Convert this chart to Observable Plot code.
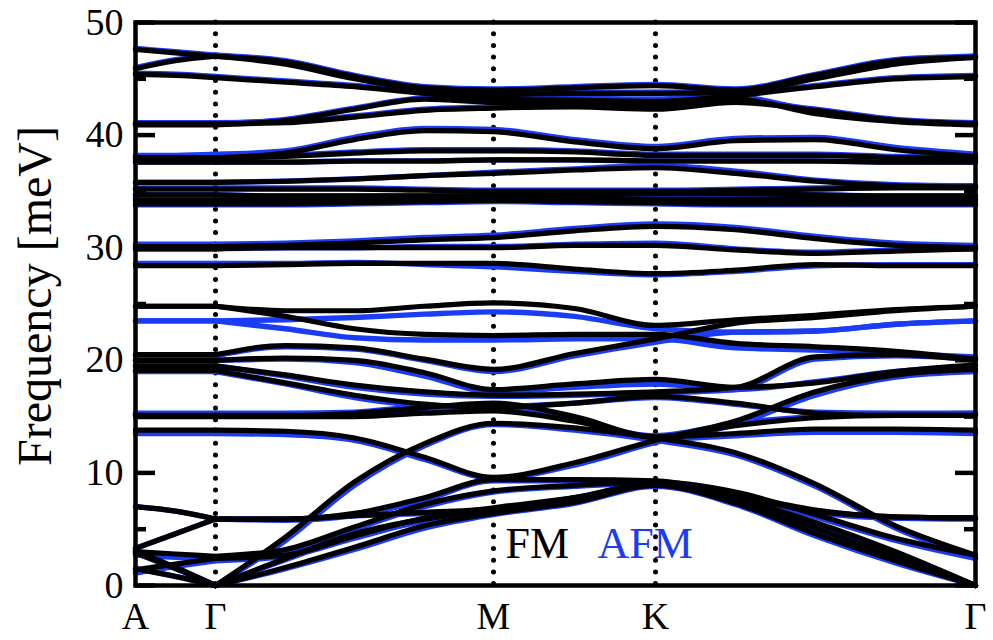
<!DOCTYPE html>
<html><head><meta charset="utf-8">
<script src="https://cdn.jsdelivr.net/npm/d3@7"></script>
<script src="https://cdn.jsdelivr.net/npm/@observablehq/plot@0.6"></script>
<style>html,body{margin:0;padding:0;background:#fff}#chart{width:993px;height:640px}</style>
</head><body><div id="chart"></div>
<script>
// High-symmetry path
const kLabels = ["A", "Γ", "M", "K", "Γ"];
const kPoints = [0, 0.8, 3.58, 5.2, 8.4];
// k-coordinates at which each band is sampled (A, mid, Γ, 3 inner Γ-M, M, mid, K, 3 inner K-Γ, Γ)
const kSamples = [0, 0.4, 0.8, 1.5, 2.19, 2.89, 3.58, 4.39, 5.2, 6.0, 6.8, 7.6, 8.4];
const yTicksMajor = [0, 10, 20, 30, 40, 50];
const yTicksMinor = [5, 15, 25, 35, 45];
const legendLabels = ["FM", "AFM"];

// FM bands (meV)
const FM_B1 = [47.6, 47.3, 47.0, 46.5, 45.2, 44.2, 44.0, 44.2, 44.4, 44.0, 45.3, 46.6, 46.9];
const FM_B2 = [45.9, 46.6, 47.0, 46.3, 45.0, 44.0, 43.6, 43.7, 43.7, 43.8, 45.0, 46.3, 46.9];
const FM_B3 = [45.4, 45.3, 45.1, 44.7, 44.3, 43.7, 43.2, 43.1, 43.0, 43.5, 44.3, 45.0, 45.2];
const FM_B4 = [41.0, 41.0, 41.0, 41.1, 41.6, 42.2, 42.4, 42.5, 42.3, 42.9, 42.2, 41.3, 41.0];
const FM_B5 = [40.9, 40.9, 40.9, 41.3, 42.3, 43.2, 42.9, 42.8, 42.6, 43.2, 41.9, 41.2, 40.9];
const FM_C1 = [38.0, 38.0, 38.0, 38.4, 39.6, 40.4, 40.3, 39.4, 38.8, 39.5, 39.6, 38.7, 38.1];
const FM_C2 = [37.9, 37.9, 37.9, 38.1, 38.4, 38.6, 38.6, 38.5, 38.2, 38.2, 38.2, 38.0, 37.9];
const FM_C3 = [37.6, 37.6, 37.6, 37.6, 37.7, 37.7, 37.8, 37.8, 37.7, 37.7, 37.7, 37.6, 37.6];
const FM_D1 = [35.8, 35.8, 35.8, 35.9, 36.1, 36.4, 36.6, 36.9, 37.1, 36.6, 35.9, 35.5, 35.4];
const FM_D2 = [35.2, 35.2, 35.2, 35.2, 35.2, 35.1, 35.0, 35.0, 35.0, 35.1, 35.2, 35.3, 35.3];
const FM_D3 = [34.7, 34.7, 34.7, 34.6, 34.6, 34.6, 34.6, 34.7, 34.8, 34.8, 34.7, 34.6, 34.6];
const FM_D4 = [34.2, 34.2, 34.2, 34.3, 34.4, 34.5, 34.5, 34.4, 34.3, 34.3, 34.3, 34.2, 34.2];
const FM_D5 = [33.9, 33.9, 33.9, 33.9, 34.0, 34.1, 34.2, 34.1, 34.0, 33.9, 33.9, 33.9, 33.9];
const FM_E1 = [30.1, 30.1, 30.1, 30.2, 30.4, 30.7, 30.9, 31.5, 31.9, 31.6, 30.8, 30.2, 30.0];
const FM_E2 = [29.9, 29.9, 29.9, 30.0, 30.0, 30.0, 30.0, 30.2, 30.2, 29.8, 29.5, 29.7, 29.9];
const FM_E3 = [28.4, 28.4, 28.4, 28.5, 28.6, 28.6, 28.6, 28.1, 27.7, 28.0, 28.5, 28.4, 28.4];
const FM_F1 = [24.8, 24.8, 24.8, 24.4, 24.4, 24.8, 25.1, 24.6, 23.1, 23.6, 24.0, 24.5, 24.8];
const FM_F2 = [24.8, 24.8, 24.8, 23.9, 22.8, 22.3, 22.2, 22.3, 22.3, 21.5, 21.2, 20.8, 20.1];
const FM_F3 = [20.5, 20.5, 20.5, 21.3, 21.1, 20.1, 19.2, 20.6, 21.9, 23.3, 23.8, 24.4, 24.8];
const FM_G1 = [20.0, 20.0, 20.0, 20.2, 20.0, 18.9, 17.4, 17.9, 18.3, 17.6, 18.0, 19.0, 19.6];
const FM_G2 = [19.5, 19.5, 19.5, 18.7, 17.8, 17.2, 16.9, 17.0, 17.2, 17.6, 20.3, 20.5, 20.0];
const FM_G3 = [19.1, 19.1, 19.1, 18.0, 16.9, 16.1, 15.8, 16.2, 16.8, 16.2, 15.3, 15.1, 15.1];
const FM_H1 = [15.1, 15.1, 15.1, 15.1, 15.3, 15.8, 16.2, 15.0, 13.2, 13.5, 13.9, 13.9, 13.8];
const FM_H2 = [15.0, 15.0, 15.0, 15.0, 15.0, 15.3, 15.5, 14.6, 13.2, 14.2, 14.9, 15.1, 15.1];
const FM_R1 = [13.8, 13.8, 13.8, 13.7, 13.1, 11.4, 9.6, 10.9, 12.9, 14.6, 17.2, 18.7, 19.2];
const FM_L1 = [7.0, 6.6, 5.9, 5.9, 6.2, 6.5, 6.8, 7.8, 9.1, 7.9, 6.6, 6.1, 6.0];
const FM_L2 = [3.3, 4.6, 5.9, 5.9, 6.4, 7.8, 9.4, 9.4, 9.3, 8.1, 6.7, 6.1, 6.0];
const FM_L3 = [3.0, 2.8, 2.6, 3.2, 5.2, 7.2, 8.4, 8.9, 9.2, 8.3, 6.3, 4.2, 2.7];
const FM_L4 = [1.4, 1.9, 2.4, 2.7, 4.4, 6.0, 6.9, 7.8, 9.0, 7.7, 5.6, 3.0, 0.0];
const FM_A1 = [2.9, 1.5, 0.0, 4.3, 9.2, 12.6, 14.4, 14.0, 13.1, 11.8, 9.0, 5.3, 2.7];
const FM_A2 = [1.5, 0.8, 0.0, 2.4, 4.6, 5.9, 6.6, 7.6, 9.0, 7.6, 5.1, 2.6, 0.0];
const FM_A3 = [3.1, 1.6, 0.0, 1.6, 3.4, 5.3, 6.4, 7.4, 8.9, 7.3, 4.6, 2.2, 0.0];

// AFM bands (meV)
const AFM_B1 = [47.7, 47.4, 47.1, 46.6, 45.3, 44.3, 44.1, 44.3, 44.5, 44.1, 45.4, 46.7, 47.0];
const AFM_B2 = [46.0, 46.7, 47.1, 46.4, 45.1, 44.1, 43.7, 43.8, 43.8, 43.9, 45.1, 46.4, 47.0];
const AFM_B3 = [45.5, 45.4, 45.2, 44.8, 44.4, 43.8, 43.4, 43.3, 43.2, 43.6, 44.4, 45.1, 45.3];
const AFM_B4 = [41.1, 41.1, 41.1, 41.2, 41.7, 42.3, 42.5, 42.6, 42.4, 43.0, 42.3, 41.4, 41.1];
const AFM_B5 = [41.0, 41.0, 41.0, 41.4, 42.4, 43.3, 43.4, 43.3, 42.8, 43.4, 42.1, 41.3, 41.0];
const AFM_C1 = [38.2, 38.2, 38.3, 38.6, 39.8, 40.6, 40.5, 39.6, 39.0, 39.7, 39.8, 38.9, 38.3];
const AFM_C2 = [38.0, 38.0, 38.0, 38.2, 38.5, 38.7, 38.7, 38.6, 38.3, 38.3, 38.3, 38.1, 38.0];
const AFM_C3 = [37.6, 37.6, 37.6, 37.6, 37.7, 37.7, 37.8, 37.8, 37.7, 37.7, 37.7, 37.6, 37.6];
const AFM_D1 = [35.8, 35.8, 35.8, 35.9, 36.1, 36.4, 36.7, 37.0, 37.3, 36.8, 36.0, 35.6, 35.5];
const AFM_D2 = [35.3, 35.3, 35.3, 35.3, 35.3, 35.2, 35.1, 35.1, 35.1, 35.2, 35.3, 35.4, 35.4];
const AFM_D3 = [34.7, 34.7, 34.7, 34.6, 34.6, 34.6, 34.6, 34.7, 34.8, 34.8, 34.7, 34.6, 34.6];
const AFM_D4 = [34.4, 34.4, 34.4, 34.4, 34.5, 34.6, 34.6, 34.5, 34.4, 34.4, 34.4, 34.3, 34.3];
const AFM_D5 = [33.8, 33.8, 33.8, 33.8, 33.9, 34.0, 34.1, 34.0, 33.9, 33.8, 33.8, 33.8, 33.8];
const AFM_E1 = [30.3, 30.3, 30.3, 30.4, 30.6, 30.9, 31.1, 31.7, 32.1, 31.8, 31.0, 30.4, 30.2];
const AFM_E2 = [29.9, 29.9, 29.9, 30.0, 30.0, 30.1, 30.1, 30.3, 30.4, 29.9, 29.6, 29.8, 29.9];
const AFM_E3 = [28.6, 28.6, 28.6, 28.6, 28.7, 28.5, 28.3, 27.9, 27.6, 27.9, 28.4, 28.5, 28.5];
const AFM_F1 = [23.5, 23.5, 23.5, 23.6, 23.8, 24.1, 24.3, 23.9, 22.8, 22.5, 22.6, 23.2, 23.5];
const AFM_F2 = [23.5, 23.5, 23.5, 22.8, 22.0, 21.8, 21.8, 21.9, 21.9, 21.1, 20.9, 20.6, 20.3];
const AFM_F3 = [20.4, 20.4, 20.4, 21.2, 21.0, 20.0, 19.0, 20.4, 21.6, 22.5, 22.6, 23.2, 23.5];
const AFM_G1 = [20.0, 20.0, 20.0, 20.1, 19.8, 18.6, 17.2, 17.6, 17.9, 17.4, 18.1, 19.0, 19.5];
const AFM_G2 = [19.5, 19.5, 19.5, 18.6, 17.6, 17.0, 16.8, 16.9, 17.1, 17.4, 20.1, 20.4, 20.1];
const AFM_G3 = [19.0, 19.0, 19.0, 17.9, 16.7, 16.0, 15.9, 16.2, 16.7, 16.1, 15.4, 15.3, 15.3];
const AFM_H1 = [15.3, 15.3, 15.3, 15.3, 15.4, 15.9, 16.0, 14.8, 13.0, 13.3, 13.6, 13.6, 13.5];
const AFM_H2 = [15.2, 15.2, 15.2, 15.2, 15.2, 15.4, 15.6, 14.7, 13.3, 14.4, 15.0, 15.2, 15.3];
const AFM_R1 = [13.5, 13.5, 13.5, 13.4, 12.9, 11.2, 9.5, 10.7, 12.7, 14.3, 16.9, 18.5, 19.0];
const AFM_L1 = [7.0, 6.6, 5.9, 5.9, 6.2, 6.4, 6.7, 7.7, 9.0, 7.8, 6.5, 6.0, 5.9];
const AFM_L2 = [3.3, 4.6, 5.9, 5.8, 6.2, 7.6, 9.3, 9.3, 9.2, 8.0, 6.5, 6.0, 6.0];
const AFM_L3 = [2.7, 2.5, 2.3, 2.9, 5.0, 7.0, 8.3, 8.8, 9.1, 8.1, 6.1, 4.0, 2.4];
const AFM_L4 = [1.1, 1.7, 2.2, 2.6, 4.2, 5.8, 6.8, 7.7, 8.9, 7.5, 5.4, 2.8, 0.0];
const AFM_A1 = [2.9, 1.5, 0.0, 4.0, 8.9, 12.4, 14.3, 13.8, 12.9, 11.6, 8.8, 5.1, 2.4];
const AFM_A2 = [1.5, 0.8, 0.0, 2.3, 4.4, 5.7, 6.5, 7.5, 8.9, 7.4, 4.9, 2.4, 0.0];
const AFM_A3 = [3.1, 1.6, 0.0, 1.5, 3.2, 5.1, 6.3, 7.3, 8.8, 7.2, 4.4, 2.0, 0.0];

const fmBands = [FM_B1, FM_B2, FM_B3, FM_B4, FM_B5, FM_C1, FM_C2, FM_C3, FM_D1, FM_D2, FM_D3, FM_D4, FM_D5,
  FM_E1, FM_E2, FM_E3, FM_F1, FM_F2, FM_F3, FM_G1, FM_G2, FM_G3, FM_H1, FM_H2, FM_R1,
  FM_L1, FM_L2, FM_L3, FM_L4, FM_A1, FM_A2, FM_A3];
const afmBands = [AFM_B1, AFM_B2, AFM_B3, AFM_B4, AFM_B5, AFM_C1, AFM_C2, AFM_C3, AFM_D1, AFM_D2, AFM_D3, AFM_D4, AFM_D5,
  AFM_E1, AFM_E2, AFM_E3, AFM_F1, AFM_F2, AFM_F3, AFM_G1, AFM_G2, AFM_G3, AFM_H1, AFM_H2, AFM_R1,
  AFM_L1, AFM_L2, AFM_L3, AFM_L4, AFM_A1, AFM_A2, AFM_A3];

const BLUE = "#1b3cf5";

// Build long tables; each band split at the first Γ (index 2) so A–Γ and Γ–…–Γ are separate pieces
function toRows(bands) {
  const out = [];
  bands.forEach((vals, b) => {
    vals.forEach((e, i) => {
      if (i <= 2) out.push({key: b + "-0", k: kSamples[i], e});
      if (i >= 2) out.push({key: b + "-1", k: kSamples[i], e});
    });
  });
  return out;
}
const fmRows = toRows(fmBands);
const afmRows = toRows(afmBands);

const innerW = 993 - 135 - 18;

const chart = Plot.plot({
  width: 993,
  height: 640,
  marginLeft: 135,
  marginRight: 18,
  marginTop: 22,
  marginBottom: 55,
  style: {fontFamily: "'Liberation Serif', 'Times New Roman', serif", fontSize: "38px", background: "#fff", color: "#000", overflow: "visible"},
  x: {domain: [kPoints[0], kPoints[kPoints.length - 1]], ticks: kPoints, tickFormat: d => kLabels[kPoints.indexOf(d)], tickSize: 0, tickPadding: 17, label: null},
  y: {domain: [0, 50], ticks: yTicksMajor, tickSize: 0, tickPadding: 12, label: null},
  marks: [
    Plot.ruleX(kPoints.slice(1, 4), {stroke: "#000", strokeWidth: 5, strokeDasharray: "0,11.7", strokeLinecap: "round"}),
    Plot.line(afmRows, {x: "k", y: "e", z: "key", curve: "monotone-x", stroke: BLUE, strokeWidth: 5.4}),
    Plot.line(fmRows, {x: "k", y: "e", z: "key", curve: "monotone-x", stroke: "#000", strokeWidth: 5.2}),
    Plot.tickY(yTicksMajor, {y: d => d, insetRight: innerW - 20, strokeWidth: 4.5}),
    Plot.tickY(yTicksMinor, {y: d => d, insetRight: innerW - 11, strokeWidth: 4.5}),
    Plot.tickY(yTicksMajor, {y: d => d, insetLeft: innerW - 20, strokeWidth: 4.5}),
    Plot.tickY(yTicksMinor, {y: d => d, insetLeft: innerW - 11, strokeWidth: 4.5}),
    Plot.frame({stroke: "#000", strokeWidth: 4.5}),
    Plot.text(["Frequency [meV]"], {text: d => d, frameAnchor: "left", textAnchor: "middle", dx: -100, dy: -8, rotate: -90, fontSize: 48}),
    Plot.text([legendLabels[0]], {text: d => d, x: () => kPoints[2], y: () => 3.7, textAnchor: "start", dx: 12, fontSize: 44, fill: "#000"}),
    Plot.text([legendLabels[1]], {text: d => d, x: () => kPoints[2], y: () => 3.7, textAnchor: "start", dx: 104, fontSize: 44, fill: BLUE})
  ]
});
document.getElementById("chart").appendChild(chart);
</script>
</body></html>
